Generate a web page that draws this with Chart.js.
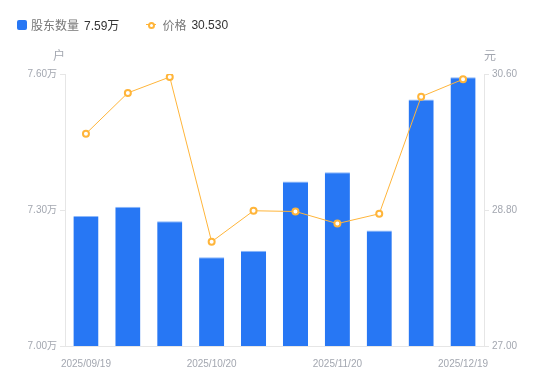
<!DOCTYPE html>
<html>
<head>
<meta charset="utf-8">
<script src="https://cdn.jsdelivr.net/npm/chart.js@4/dist/chart.umd.min.js"></script>
<style>
  html, body { margin: 0; padding: 0; background: #fff; }
  #wrap { position: relative; width: 550px; height: 381px; }
  #legend { position: absolute; left: 17px; top: 16px; font-family: 'Liberation Sans', 'Noto Sans CJK SC', sans-serif; font-size: 12px; display: flex; align-items: center; white-space: nowrap; }
  .item { display: flex; align-items: center; }
  .sq { width: 10px; height: 10px; border-radius: 2px; background: #2777F4; margin-right: 4px; }
  .ln { position: relative; width: 10px; height: 10px; margin-right: 6px; }
  .ln::before { content: ''; position: absolute; left: 0; right: 0; top: 4.5px; height: 1px; background: #FFB53A; }
  .ln::after { content: ''; position: absolute; left: 2px; top: 2px; width: 3px; height: 3px; border: 2px solid #FFB53A; border-radius: 50%; background: #fff; }
  .nm { color: #777; }
  .val { color: #333; margin-left: 5px; }
  canvas { position: absolute; left: 0; top: 0; }
</style>
</head>
<body>
<div id="wrap">
  <canvas id="c" width="550" height="381"></canvas>
  <div id="legend">
    <div class="item"><div class="sq"></div><span class="nm">股东数量</span><span class="val" id="v1"></span></div>
    <div class="item" style="margin-left:27px"><div class="ln"></div><span class="nm">价格</span><span class="val" id="v2"></span></div>
  </div>
</div>
<script>
const categories = ['2025/09/19','2025/09/30','2025/10/10','2025/10/20','2025/10/31','2025/11/10','2025/11/20','2025/11/28','2025/12/10','2025/12/19'];
const shownLabels = ['2025/09/19','2025/10/20','2025/11/20','2025/12/19'];
const holders = [7.287, 7.307, 7.275, 7.196, 7.210, 7.363, 7.383, 7.255, 7.544, 7.593];
const prices = [29.81, 30.35, 30.56, 28.38, 28.79, 28.78, 28.62, 28.75, 30.30, 30.53];
const leftTicks = [7.00, 7.30, 7.60];
const rightTicks = [27.00, 28.80, 30.60];

document.getElementById('v1').textContent = '7.59万';
document.getElementById('v2').textContent = '30.530';

const FONT = "'Liberation Sans', 'Noto Sans CJK SC', sans-serif";
const TICK_COLOR = '#A3A7B0';
const AXIS_COLOR = '#E6E6E6';

const unitPlugin = {
  id: 'units',
  afterDraw(chart) {
    const ctx = chart.ctx;
    const a = chart.chartArea;
    ctx.save();
    ctx.font = '12px ' + FONT;
    ctx.fillStyle = TICK_COLOR;
    ctx.textBaseline = 'middle';
    ctx.textAlign = 'center';
    ctx.fillText('户', a.left - 6, a.top - 17);
    ctx.fillText('元', a.right + 6, a.top - 17);
    ctx.restore();
  }
};

new Chart(document.getElementById('c'), {
  data: {
    labels: categories,
    datasets: [
      {
        type: 'line', label: '价格', data: prices, yAxisID: 'y1',
        borderColor: '#FFB53A', borderWidth: 1, pointRadius: 3, pointBorderWidth: 2,
        pointBackgroundColor: '#fff', pointBorderColor: '#FFB53A', tension: 0, order: 0
      },
      {
        type: 'bar', label: '股东数量', data: holders, yAxisID: 'y',
        backgroundColor: '#2777F4', borderColor: '#8DB8FA', borderWidth: {top: 1, left: 0, right: 0, bottom: 0},
        barPercentage: 0.6, categoryPercentage: 1.0, order: 1
      }
    ]
  },
  options: {
    responsive: false, animation: false,
    layout: { padding: { top: 74, left: 0, right: 0, bottom: 0 } },
    plugins: { legend: { display: false }, tooltip: { enabled: false } },
    scales: {
      x: {
        grid: { display: false },
        border: { display: true, color: AXIS_COLOR },
        ticks: {
          autoSkip: false, maxRotation: 0, padding: 4, color: TICK_COLOR,
          font: { family: FONT, size: 10 },
          callback(v, i) { const l = categories[i]; return shownLabels.includes(l) ? l : ''; }
        },
        afterFit(s) { s.height = 35; }
      },
      y: {
        position: 'left', min: 7.0, max: 7.6,
        afterBuildTicks(s) { s.ticks = leftTicks.map(v => ({ value: v })); },
        grid: { drawOnChartArea: false, tickLength: 5, color: AXIS_COLOR },
        border: { color: AXIS_COLOR },
        ticks: { padding: 3, color: TICK_COLOR, font: { family: FONT, size: 10 }, callback: v => v.toFixed(2) + '万' },
        afterFit(s) { s.width = 65; }
      },
      y1: {
        position: 'right', min: 27, max: 30.6,
        afterBuildTicks(s) { s.ticks = rightTicks.map(v => ({ value: v })); },
        grid: { drawOnChartArea: false, tickLength: 5, color: AXIS_COLOR },
        border: { color: AXIS_COLOR },
        ticks: { padding: 3, color: TICK_COLOR, font: { family: FONT, size: 10 }, callback: v => v.toFixed(2) },
        afterFit(s) { s.width = 66; }
      }
    }
  },
  plugins: [unitPlugin]
});
</script>
</body>
</html>
